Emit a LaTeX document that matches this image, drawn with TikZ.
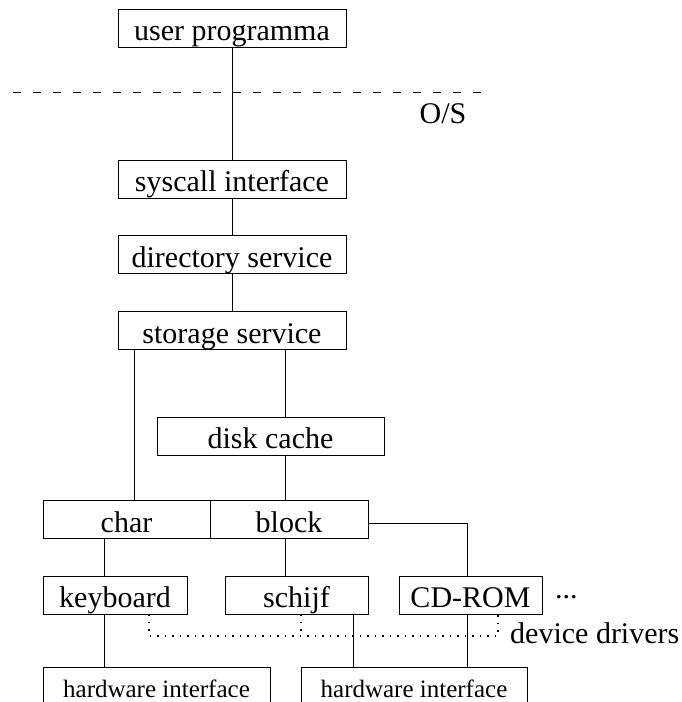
\documentclass[tikz,border=0pt]{standalone}
\usepackage{fontspec}
\setmainfont{Liberation Serif}
\begin{document}
\begin{tikzpicture}[x=1pt,y=-1pt,
  layer/.style={draw, rectangle, inner sep=0pt, line width=0.9pt,
    text height=31.5pt, text depth=6.5pt,
    font=\fontsize{30}{36}\selectfont},
  hwbox/.style={draw, rectangle, inner sep=0pt, line width=0.9pt,
    text height=30pt, text depth=10pt,
    font=\fontsize{25}{30}\selectfont},
  link/.style={line width=0.9pt},
  boundary/.style={line width=0.9pt, dash pattern=on 8pt off 12pt},
  driverline/.style={line width=1.3pt, dash pattern=on 1.3pt off 6.2pt},
  caption/.style={inner sep=0pt, font=\fontsize{30}{36}\selectfont}]
\useasboundingbox (0,0) rectangle (682,702);
\clip (0,0) rectangle (682,702);

% layers of the file system
\node[layer, minimum width=228pt] (user)      at (232,28)    {user programma};
\node[layer, minimum width=228pt] (syscall)   at (232,179)   {syscall interface};
\node[layer, minimum width=228pt] (directory) at (232,254.5) {directory service};
\node[layer, minimum width=228pt] (storage)   at (232,330.5) {storage service};
\node[layer, minimum width=227pt] (disk)      at (270.5,436) {disk cache};
\node[layer, minimum width=167pt] (char)      at (126.5,519.5) {char};
\node[layer, minimum width=158pt] (block)     at (289,519.5) {block};
\node[layer, minimum width=144pt] (keyboard)  at (115,595)   {keyboard};
\node[layer, minimum width=143pt] (schijf)    at (296.5,595) {schijf};
\node[layer, minimum width=143pt] (cdrom)     at (470.5,595) {CD-ROM};
\node[hwbox, minimum width=227pt] (hwa)       at (156.5,687) {hardware interface};
\node[hwbox, minimum width=226pt] (hwb)       at (414,687)   {hardware interface};

% kernel boundary
\coordinate (osl) at (13,92);
\coordinate (osr) at (488,92);
\draw[boundary] (osl) -- (osr);
\node[caption] (os) at (443,114) {O/S};

% vertical positions of the connectors
\coordinate (charx) at (134,0);
\coordinate (spine) at (285,0);
\coordinate (kbdx)  at (104,0);
\coordinate (schx)  at (353,0);
\coordinate (cdx)   at (467,0);

\draw[link] (user) -- (syscall);
\draw[link] (syscall) -- (directory);
\draw[link] (directory) -- (storage);
\draw[link] (charx |- storage.south) -- (charx |- char.north);
\draw[link] (spine |- storage.south) -- (spine |- disk.north);
\draw[link] (spine |- disk.south) -- (spine |- block.north);
\draw[link] (spine |- block.south) -- (spine |- schijf.north);
\draw[link] (kbdx |- char.south) -- (kbdx |- keyboard.north);
\draw[link] ([yshift=-3.5pt]block.east) -| (cdx |- cdrom.north);
\draw[link] (kbdx |- keyboard.south) -- (kbdx |- hwa.north);
\draw[link] (schx |- schijf.south) -- (schx |- hwb.north);
\draw[link] (cdx |- cdrom.south) -- (cdx |- hwb.north);

% device driver grouping
\coordinate (ddk) at (149,0);
\coordinate (dds) at (301,0);
\coordinate (ddc) at (498,0);
\coordinate (ddy) at (0,636);
\draw[driverline] (ddk |- keyboard.south) -- (ddk |- ddy) -- (ddc |- ddy) -- (ddc |- cdrom.south);
\draw[driverline] (dds |- schijf.south) -- (dds |- ddy);
\node[caption, anchor=base west] (drivers) at (510,643) {device drivers};
\node[caption, anchor=base west] (more) at (555,598) {...};
\end{tikzpicture}
\end{document}
